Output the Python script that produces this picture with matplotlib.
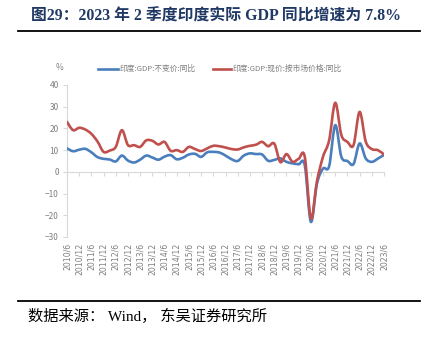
import matplotlib
matplotlib.use("Agg")
import matplotlib.pyplot as plt
import numpy as np
from matplotlib.path import Path
from matplotlib.patches import PathPatch
from matplotlib.lines import Line2D

plt.rcParams['font.family'] = ['Noto Sans CJK SC', 'DejaVu Sans']

# Quarterly dates (2010Q2 .. 2023Q2); labels shown every half year
quarters = [f"{y}/{m}" for y in range(2010, 2024) for m in (3, 6, 9, 12)][1:54]
tick_labels = quarters[::2]

real_gdp_yoy = [10.8, 9.5, 10.2, 10.6, 9.0, 6.8, 6.0, 5.7, 4.8, 7.5,
                5.2, 4.3, 5.6, 7.5, 6.6, 5.6, 7.0, 7.7, 5.8, 6.5,
                8.0, 8.3, 6.9, 9.0, 9.2, 8.9, 7.5, 5.8, 5.0, 7.5,
                8.5, 8.2, 8.0, 5.1, 5.5, 6.2, 4.6, 3.9, 3.5, 3.1,
                -23.0, -5.5, 1.5, 2.6, 21.5, 7.0, 5.0, 3.6, 13.1, 6.2,
                4.6, 6.1, 7.8]

nominal_gdp_yoy = [23.0, 19.2, 20.3, 19.5, 17.5, 14.0, 9.2, 9.8, 11.5, 19.2,
                   12.3, 12.3, 11.5, 14.5, 14.3, 12.6, 13.8, 9.7, 10.0, 9.2,
                   11.5, 10.5, 9.6, 10.8, 12.0, 11.8, 11.2, 10.5, 10.3, 11.3,
                   12.0, 12.5, 13.8, 11.8, 13.0, 4.5, 8.2, 4.6, 6.0, 7.0,
                   -21.5, -4.3, 7.0, 14.5, 31.8, 17.0, 13.8, 12.3, 27.6, 14.0,
                   10.5, 10.0, 8.0]

series_names = ["印度:GDP:不变价:同比", "印度:GDP:现价:按市场价格:同比"]
series_colors = ["#4A7EBD", "#C0504D"]


def smooth_path(x, y):
    """Cubic Bezier path through every point (Catmull-Rom style control points)."""
    pts = np.column_stack([x, y]).astype(float)
    n = len(pts)
    verts = [pts[0]]
    codes = [Path.MOVETO]
    for i in range(n - 1):
        p0 = pts[i - 1] if i > 0 else pts[i]
        p1 = pts[i]
        p2 = pts[i + 1]
        p3 = pts[i + 2] if i + 2 < n else pts[i + 1]
        c1 = p1 + (p2 - p0) / 6.0
        c2 = p2 - (p3 - p1) / 6.0
        verts += [c1, c2, p2]
        codes += [Path.CURVE4] * 3
    return Path(verts, codes)


W, H = 435, 339
fig = plt.figure(figsize=(W / 100, H / 100), dpi=100)
ax = fig.add_axes([67 / W, 1 - 237 / H, (384 - 67) / W, (237 - 85) / H])

grey = "#D9D9D9"
text_grey = "#7F7F7F"

x = np.arange(len(quarters))
for vals, col in zip([real_gdp_yoy, nominal_gdp_yoy], series_colors):
    ax.add_patch(PathPatch(smooth_path(x, vals), facecolor="none",
                           edgecolor=col, lw=1.9, transform=ax.transData,
                           capstyle="round", joinstyle="round", zorder=3))

ax.set_xlim(0, len(quarters) - 1)
ax.set_ylim(-30, 40)
ax.set_yticks(range(-30, 41, 10))

for s in ("top", "right"):
    ax.spines[s].set_visible(False)
ax.spines["left"].set_color(grey)
ax.spines["left"].set_linewidth(0.8)
ax.spines["bottom"].set_position(("data", 0))
ax.spines["bottom"].set_color(grey)
ax.spines["bottom"].set_linewidth(0.8)

ax.tick_params(axis="y", direction="out", length=3, width=0.8, color=grey,
               labelsize=6, labelcolor=text_grey, pad=3)
ax.set_xticks(x[::2])
ax.tick_params(axis="x", direction="out", length=3, width=0.8, color=grey,
               labelbottom=False)

sec = ax.secondary_xaxis("bottom")
sec.set_xticks(x[::2])
sec.set_xticklabels(tick_labels, rotation=90, fontsize=5.6, color=text_grey,
                    family=["DejaVu Sans"])
sec.tick_params(length=0, pad=4)
sec.spines["bottom"].set_visible(False)

ax.text(60 / W, 1 - 68 / H, "%", transform=fig.transFigure, fontsize=6,
        color=text_grey, ha="center", va="center")

# legend drawn along the top of the plot area
for (x0, x1, tx), name, col in zip([(98, 118, 120), (213, 231, 233)],
                                   series_names, series_colors):
    fig.add_artist(Line2D([x0 / W, x1 / W], [1 - 69 / H, 1 - 69 / H],
                          color=col, lw=1.9, transform=fig.transFigure))
    fig.text(tx / W, 1 - 69 / H, name, fontsize=5.6, color=text_grey,
             va="center", ha="left")

# title, rules and source note
fig.text(216 / W, 1 - 17 / H, "图29：2023 年 2 季度印度实际 GDP 同比增速为 7.8%",
         fontsize=11.4, fontweight="bold", color="#203864",
         ha="center", va="center", family=["Liberation Serif", "Noto Sans CJK SC"])
for yy in (31, 301):
    fig.add_artist(Line2D([18 / W, 420 / W], [1 - yy / H, 1 - yy / H],
                          color="black", lw=1.3, transform=fig.transFigure))
fig.text(28 / W, 1 - 316 / H, "数据来源： Wind， 东吴证券研究所", fontsize=11,
         color="black", ha="left", va="center",
         family=["Liberation Serif", "Noto Sans CJK SC"])

fig.savefig("out.png", dpi=100)
